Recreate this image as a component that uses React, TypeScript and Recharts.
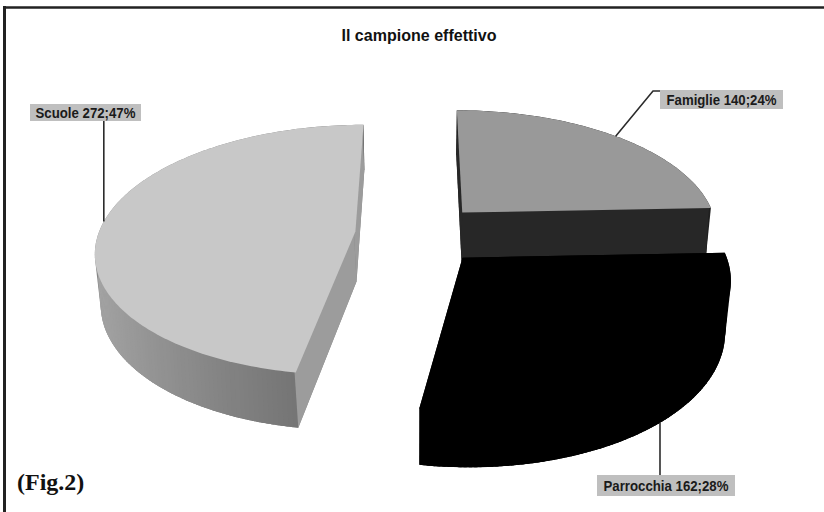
import React from 'react';
import { PieChart, Pie } from 'recharts';

// sample composition
const categories = ['Famiglie', 'Parrocchia', 'Scuole'];
const counts = [140, 162, 272];

// face colours per slice: top face, curved wall, cut faces
const topColors = ['#999999', '#000000', '#c8c8c8'];
const wallColors = ['#292929', '#000000', '#a6a6a6'];
const cutColors = ['#272727', '#000000', '#9c9c9c'];

const data = categories.map((name, i) => ({ name, value: counts[i] }));

// 3D view settings
const RAD = Math.PI / 180;
const TILT = 28.6 * RAD;
const SIN_T = Math.sin(TILT);
const COS_T = Math.cos(TILT);
const CAMERA = 1540;
const DEPTH = 58;
const EXPLODE = 64;
// side faces start slightly inside the top face so the join never shows a seam
const TUCK = 1.5;

type Pt = [number, number];

// x: right, z: away from viewer (on the pie plane), y: up
function project(cx: number, cy: number, x: number, z: number, y: number): Pt {
  const yc = y * COS_T + z * SIN_T;
  const zc = -y * SIN_T + z * COS_T;
  const k = CAMERA / (CAMERA + zc);
  return [cx + x * k, cy - yc * k];
}

function facesCamera(nx: number, nz: number, px: number, pz: number) {
  return nx * -px + nz * (-CAMERA * COS_T - pz) > 0;
}

function shade(hex: string, k: number) {
  const n = parseInt(hex.slice(1), 16);
  const c = (v: number) => Math.max(0, Math.min(255, Math.round(v * k)));
  const r = c((n >> 16) & 255);
  const g = c((n >> 8) & 255);
  const b = c(n & 255);
  return `rgb(${r},${g},${b})`;
}

const toPath = (pts: Pt[]) =>
  'M' + pts.map((p) => `${p[0].toFixed(2)},${p[1].toFixed(2)}`).join('L') + 'Z';

// outline of a slice (monotone chain hull of its projected corners)
function hull(pts: Pt[]): Pt[] {
  const p = [...pts].sort((a, b) => a[0] - b[0] || a[1] - b[1]);
  const cross = (o: Pt, a: Pt, b: Pt) => (a[0] - o[0]) * (b[1] - o[1]) - (a[1] - o[1]) * (b[0] - o[0]);
  const lower: Pt[] = [];
  for (const q of p) {
    while (lower.length >= 2 && cross(lower[lower.length - 2], lower[lower.length - 1], q) <= 0) lower.pop();
    lower.push(q);
  }
  const upper: Pt[] = [];
  for (let i = p.length - 1; i >= 0; i--) {
    const q = p[i];
    while (upper.length >= 2 && cross(upper[upper.length - 2], upper[upper.length - 1], q) <= 0) upper.pop();
    upper.push(q);
  }
  return lower.slice(0, -1).concat(upper.slice(0, -1));
}

function explodeOffset(midAngle: number) {
  return [EXPLODE * Math.cos(midAngle * RAD), EXPLODE * Math.sin(midAngle * RAD)];
}

function Slice3D(props: any) {
  const { cx, cy, outerRadius: r, startAngle, endAngle, midAngle, index } = props;
  const [ox, oz] = explodeOffset(midAngle);
  const m = midAngle * RAD;
  const rim = (a: number, y: number, rr = r) =>
    project(cx, cy, ox + rr * Math.cos(a * RAD), oz + rr * Math.sin(a * RAD), y);
  const hub = (y: number) => project(cx, cy, ox, oz, y);

  const steps = Math.max(2, Math.ceil(Math.abs(startAngle - endAngle)));
  const step = (endAngle - startAngle) / steps;
  const angles: number[] = [];
  for (let i = 0; i <= steps; i++) angles.push(startAngle + step * i);

  const back: { d: string; fill: string }[] = [];
  const front: { d: string; fill: string }[] = [];

  // curved outer wall as slightly overlapping strips
  for (let i = 0; i < steps; i++) {
    const a0 = angles[i];
    const a1 = i < steps - 1 ? angles[i + 1] + step * 0.6 : angles[i + 1];
    const am = (a0 + step / 2) * RAD;
    const nx = Math.cos(am);
    const nz = Math.sin(am);
    const light = 0.64 + 0.36 * Math.max(0, -nx);
    const face = {
      d: toPath([rim(a0, 0, r - TUCK), rim(a1, 0, r - TUCK), rim(a1, -DEPTH), rim(a0, -DEPTH)]),
      fill: shade(wallColors[index], light),
    };
    (facesCamera(nx, nz, ox + r * nx, oz + r * nz) ? front : back).push(face);
  }

  // radial cut faces
  [startAngle, endAngle].forEach((edge: number) => {
    const e = edge * RAD;
    let nx = -Math.sin(e);
    let nz = Math.cos(e);
    if (nx * Math.cos(m) + nz * Math.sin(m) > 0) {
      nx = -nx;
      nz = -nz;
    }
    if (!facesCamera(nx, nz, ox + 0.5 * r * Math.cos(e), oz + 0.5 * r * Math.sin(e))) return;
    const inner = (rr: number): Pt =>
      project(
        cx,
        cy,
        ox + rr * Math.cos(e) - nx * TUCK,
        oz + rr * Math.sin(e) - nz * TUCK,
        0
      );
    front.push({
      d: toPath([inner(0), inner(r - TUCK), rim(edge, -DEPTH), hub(-DEPTH)]),
      fill: cutColors[index],
    });
  });

  const topPts = [hub(0), ...angles.map((a) => rim(a, 0))];
  const bottomPts = [hub(-DEPTH), ...angles.map((a) => rim(a, -DEPTH))];
  const outline = toPath(hull([...topPts, ...bottomPts]));

  return (
    <g>
      {/* solid backing so no background shows through the face joins */}
      <path d={outline} fill={shade(wallColors[index], 0.8)} />
      {back.map((f, i) => (
        <path key={'b' + i} d={f.d} fill={f.fill} />
      ))}
      {front.map((f, i) => (
        <path key={'f' + i} d={f.d} fill={f.fill} />
      ))}
      <path d={toPath(topPts)} fill={topColors[index]} />
    </g>
  );
}

// data label boxes (placed by hand, leaders run to the slices)
const labelLayout: Record<string, any> = {
  Famiglie: { x: 660, y: 90, w: 123, h: 19, tl: 110, level: 0, elbow: [653, 91] },
  Parrocchia: { x: 597, y: 475, w: 138, h: 21, tl: 125, level: -DEPTH },
  Scuole: { x: 30, y: 104, w: 111, h: 17, tl: 100, level: 0 },
};

function SliceLabel(props: any) {
  const { cx, cy, outerRadius: r, midAngle, name, value, percent } = props;
  const box = labelLayout[name];
  const [ox, oz] = explodeOffset(midAngle);
  const [ax, ay] = project(
    cx,
    cy,
    ox + r * Math.cos(midAngle * RAD),
    oz + r * Math.sin(midAngle * RAD),
    box.level
  );
  let leader: string;
  if (box.elbow) {
    leader = `M${ax},${ay}L${box.elbow[0]},${box.elbow[1]}L${box.x},${box.elbow[1]}`;
  } else if (ay > box.y + box.h) {
    leader = `M${ax},${ay}L${ax},${box.y + box.h}`;
  } else {
    leader = `M${ax},${ay}L${ax},${box.y}`;
  }
  const text = `${name} ${value};${Math.round(percent * 100)}%`;
  return (
    <g>
      <path d={leader} fill="none" stroke="#2b2b2b" strokeWidth={1.6} />
      <rect x={box.x} y={box.y} width={box.w} height={box.h} fill="#bfbfbf" />
      <text
        x={box.x + box.w / 2}
        y={box.y + box.h / 2 + 5}
        textAnchor="middle"
        fontFamily="'Liberation Sans Narrow', 'Liberation Sans', Arial, sans-serif"
        fontWeight="bold"
        fontSize={14}
        fill="#1a1a1a"
        textLength={box.tl}
        lengthAdjust="spacingAndGlyphs"
      >
        {text}
      </text>
    </g>
  );
}

export default function App() {
  return (
    <div style={{ position: 'absolute', left: 0, top: 0, width: 824, height: 512, background: '#fff' }}>
      <style>{'body{margin:0}'}</style>
      <PieChart width={824} height={512} margin={{ top: 0, right: 0, bottom: 0, left: 0 }}>
        <line x1={3} y1={7.5} x2={824} y2={7.5} stroke="#222" strokeWidth={2.5} />
        <line x1={4.5} y1={6} x2={4.5} y2={512} stroke="#222" strokeWidth={3} />
        <text
          x={419}
          y={41}
          textAnchor="middle"
          fontFamily="'Liberation Sans', Arial, sans-serif"
          fontWeight="bold"
          fontSize={16}
          fill="#111"
          textLength={155}
          lengthAdjust="spacingAndGlyphs"
        >
          Il campione effettivo
        </text>
        <Pie
          data={data}
          dataKey="value"
          nameKey="name"
          cx={419}
          cy={234}
          outerRadius={257}
          startAngle={90}
          endAngle={-270}
          stroke="none"
          shape={Slice3D}
          activeShape={Slice3D}
          inactiveShape={Slice3D}
          label={SliceLabel}
          labelLine={false}
          isAnimationActive={false}
        />
        <text
          x={17}
          y={490}
          fontFamily="'Liberation Serif', 'Times New Roman', serif"
          fontWeight="bold"
          fontSize={24}
          fill="#111"
        >
          (Fig.2)
        </text>
      </PieChart>
    </div>
  );
}
